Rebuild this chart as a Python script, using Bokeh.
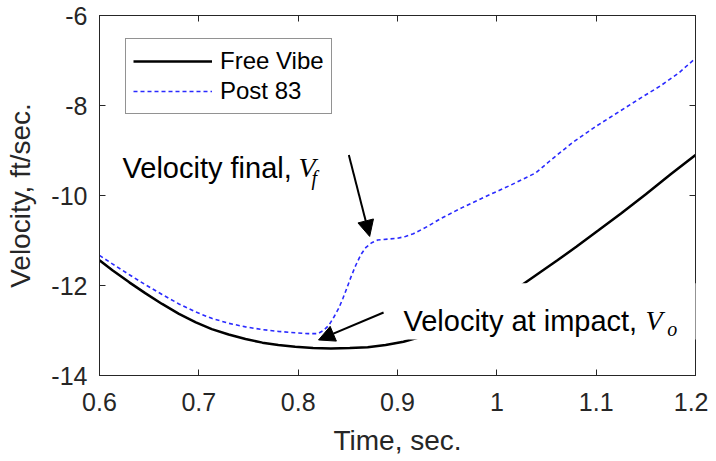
from bokeh.plotting import figure
from bokeh.models import (Range1d, LinearAxis, FixedTicker, Legend, LegendItem,
                          Label, Arrow, NormalHead, BoxAnnotation)
from bokeh.embed import file_html
from bokeh.resources import INLINE

# ---- data ----
t_free = [0.600, 0.613, 0.630, 0.646, 0.663, 0.680, 0.697, 0.713, 0.730, 0.747,
          0.764, 0.780, 0.797, 0.815, 0.833, 0.852, 0.870, 0.888, 0.906, 0.930,
          0.955, 0.980, 1.005, 1.027, 1.044, 1.061, 1.080, 1.102, 1.125, 1.150,
          1.175, 1.200]
v_free = [-11.44, -11.66, -11.93, -12.17, -12.41, -12.63, -12.82, -12.97, -13.09, -13.19,
          -13.27, -13.32, -13.36, -13.39, -13.40, -13.39, -13.37, -13.32, -13.25, -13.10,
          -12.88, -12.60, -12.30, -11.96, -11.70, -11.44, -11.14, -10.78, -10.40, -9.97,
          -9.53, -9.10]

t_post = [0.600, 0.613, 0.630, 0.646, 0.663, 0.680, 0.697, 0.713, 0.730, 0.747,
          0.764, 0.780, 0.797, 0.810, 0.820, 0.826, 0.831, 0.836, 0.841, 0.845,
          0.849, 0.853, 0.858, 0.863, 0.868, 0.874, 0.880, 0.890, 0.900, 0.908,
          0.916, 0.930, 0.943, 0.965, 0.987, 1.013, 1.039, 1.054, 1.077, 1.100,
          1.125, 1.145, 1.165, 1.183, 1.200]
v_post = [-11.33, -11.52, -11.76, -11.98, -12.20, -12.41, -12.59, -12.73, -12.84, -12.92,
          -12.98, -13.02, -13.05, -13.07, -13.07, -12.99, -12.88, -12.70, -12.50, -12.29,
          -12.06, -11.82, -11.55, -11.32, -11.16, -11.05, -10.99, -10.97, -10.95, -10.91,
          -10.85, -10.69, -10.52, -10.27, -10.04, -9.78, -9.50, -9.22, -8.81, -8.46,
          -8.11, -7.83, -7.56, -7.28, -6.95]

x_ticks = [0.6, 0.7, 0.8, 0.9, 1.0, 1.1, 1.2]
x_tick_labels = ["0.6", "0.7", "0.8", "0.9", "1", "1.1", "1.2"]
y_ticks = [-14, -12, -10, -8, -6]
y_tick_labels = ["-14", "-12", "-10", "-8", "-6"]

series_names = ["Free Vibe", "Post 83"]

FONT = "Liberation Sans"
AX = "#262626"

p = figure(width=708, height=458, output_backend="svg", toolbar_location=None,
           x_range=Range1d(0.6, 1.2), y_range=Range1d(-14, -6),
           min_border_left=99, min_border_right=13, min_border_top=15, min_border_bottom=83,
           x_axis_type=None, y_axis_type=None)
p.grid.visible = False
p.outline_line_color = AX
p.outline_line_width = 1
p.background_fill_color = "white"
p.border_fill_color = "white"

def style_axis(ax, labels=True):
    ax.axis_line_color = AX
    ax.major_tick_line_color = AX
    ax.major_tick_in = 6
    ax.major_tick_out = 0
    ax.minor_tick_line_color = None
    ax.major_label_text_font = FONT
    if labels:
        ax.major_label_text_color = AX
        ax.major_label_text_font_size = "25px"
    else:
        ax.major_label_text_color = None
        ax.major_label_text_font_size = "1px"
        ax.major_label_standoff = 0
    ax.axis_label_text_font = FONT
    ax.axis_label_text_font_style = "normal"
    ax.axis_label_text_color = AX
    ax.axis_label_text_font_size = "28px"

xb = LinearAxis(ticker=FixedTicker(ticks=x_ticks),
                major_label_overrides=dict(zip(x_ticks, x_tick_labels)),
                axis_label="Time, sec.")
style_axis(xb)
xb.major_label_standoff = 17
xb.axis_label_standoff = 11
p.add_layout(xb, "below")

yl = LinearAxis(ticker=FixedTicker(ticks=y_ticks),
                major_label_overrides=dict(zip(y_ticks, y_tick_labels)),
                axis_label="Velocity, ft/sec.")
style_axis(yl)
yl.major_label_standoff = 12
yl.axis_label_standoff = 12
p.add_layout(yl, "left")

xt = LinearAxis(ticker=FixedTicker(ticks=x_ticks))
style_axis(xt, labels=False)
p.add_layout(xt, "above")

yr = LinearAxis(ticker=FixedTicker(ticks=y_ticks))
style_axis(yr, labels=False)
p.add_layout(yr, "right")

r1 = p.line(t_free, v_free, line_color="black", line_width=2.5)
r2 = p.line(t_post, v_post, line_color="#2a2aff", line_width=1.6, line_dash="4 3")

# white box behind lower annotation
p.add_layout(BoxAnnotation(left=0.898, right=1.204, top=-11.95, bottom=-13.2,
                           fill_color="white", fill_alpha=1.0, line_color=None))

# arrows
p.add_layout(Arrow(x_start=0.851, y_start=-9.10, x_end=0.872, y_end=-10.91,
                   line_color="black", line_width=2,
                   end=NormalHead(size=16, fill_color="black", line_color="black")))
p.add_layout(Arrow(x_start=0.886, y_start=-12.60, x_end=0.8205, y_end=-13.21,
                   line_color="black", line_width=2,
                   end=NormalHead(size=16, fill_color="black", line_color="black")))

# annotation texts
def lab(x, y, text, font=FONT, size="29px", style="normal"):
    p.add_layout(Label(x=x, y=y, text=text, text_font=font, text_font_size=size,
                       text_font_style=style, text_color="black",
                       text_baseline="alphabetic", text_align="left"))

lab(0.6232, -9.378, "Velocity final,")
lab(0.8003, -9.378, "V", font="Liberation Serif", size="28px", style="italic")
lab(0.8135, -9.62, "f", font="Liberation Serif", size="20px", style="italic")
lab(0.906, -12.778, "Velocity at impact,")
lab(1.1497, -12.778, "V", font="Liberation Serif", size="28px", style="italic")
lab(1.1715, -12.96, "o", font="Liberation Serif", size="20px", style="italic")

legend = Legend(items=[LegendItem(label=series_names[0], renderers=[r1]),
                       LegendItem(label=series_names[1], renderers=[r2])],
                location=(26, 261))
legend.label_text_font = FONT
legend.label_text_font_size = "24px"
legend.label_text_color = "black"
legend.glyph_width = 79
legend.glyph_height = 30
legend.label_height = 30
legend.label_standoff = 8
legend.spacing = 0
legend.padding = 7
legend.margin = 0
legend.border_line_color = AX
legend.border_line_width = 1
legend.background_fill_alpha = 1.0
p.add_layout(legend, "center")

open("out.html", "w").write(file_html(p, INLINE))
